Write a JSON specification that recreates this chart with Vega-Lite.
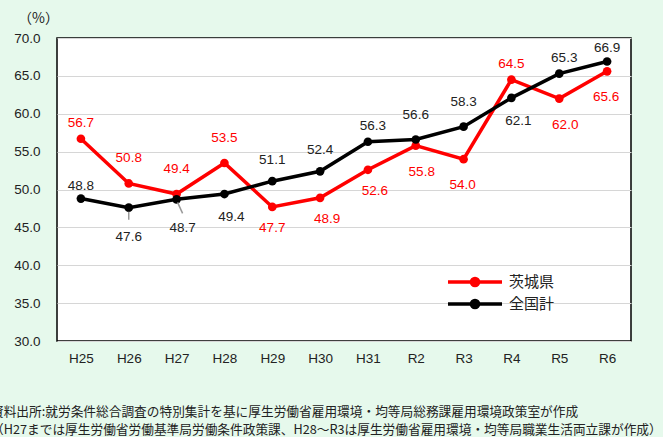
{
  "$schema": "https://vega.github.io/schema/vega-lite/v6.json",
  "width": 574,
  "height": 303,
  "autosize": "none",
  "padding": {"left": 57, "top": 38, "right": 32, "bottom": 96},
  "background": "#e6f9ec",
  "config": {
    "view": {"fill": "white", "stroke": "black", "strokeWidth": 1.5},
    "font": "Liberation Sans"
  },
  "title": {
    "text": [
      "資料出所:就労条件総合調査の特別集計を基に厚生労働省雇用環境・均等局総務課雇用環境政策室が作成",
      "（H27までは厚生労働省労働基準局労働条件政策課、H28～R3は厚生労働省雇用環境・均等局職業生活両立課が作成）"
    ],
    "orient": "bottom",
    "anchor": "start",
    "frame": "group",
    "dx": -66,
    "offset": 41,
    "fontSize": 12.7,
    "fontWeight": "normal",
    "font": "Noto Sans CJK JP",
    "color": "#222222",
    "lineHeight": 18.5
  },
  "data": {
    "values": [
      {"x": "H25", "s": "茨城県", "v": 56.7},
      {"x": "H26", "s": "茨城県", "v": 50.8},
      {"x": "H27", "s": "茨城県", "v": 49.4},
      {"x": "H28", "s": "茨城県", "v": 53.5},
      {"x": "H29", "s": "茨城県", "v": 47.7},
      {"x": "H30", "s": "茨城県", "v": 48.9},
      {"x": "H31", "s": "茨城県", "v": 52.6},
      {"x": "R2", "s": "茨城県", "v": 55.8},
      {"x": "R3", "s": "茨城県", "v": 54.0},
      {"x": "R4", "s": "茨城県", "v": 64.5},
      {"x": "R5", "s": "茨城県", "v": 62.0},
      {"x": "R6", "s": "茨城県", "v": 65.6},
      {"x": "H25", "s": "全国計", "v": 48.8},
      {"x": "H26", "s": "全国計", "v": 47.6},
      {"x": "H27", "s": "全国計", "v": 48.7},
      {"x": "H28", "s": "全国計", "v": 49.4},
      {"x": "H29", "s": "全国計", "v": 51.1},
      {"x": "H30", "s": "全国計", "v": 52.4},
      {"x": "H31", "s": "全国計", "v": 56.3},
      {"x": "R2", "s": "全国計", "v": 56.6},
      {"x": "R3", "s": "全国計", "v": 58.3},
      {"x": "R4", "s": "全国計", "v": 62.1},
      {"x": "R5", "s": "全国計", "v": 65.3},
      {"x": "R6", "s": "全国計", "v": 66.9}
    ]
  },
  "encoding": {
    "x": {
      "field": "x", "type": "ordinal", "sort": null,
      "scale": {"type": "point", "padding": 0.5},
      "axis": {"title": null, "labelAngle": 0, "ticks": false, "domain": false, "labelPadding": 10, "labelFontSize": 13.5, "labelColor": "#222222"}
    },
    "y": {
      "field": "v", "type": "quantitative",
      "scale": {"domain": [30, 70], "nice": false, "zero": false},
      "axis": {
        "title": "（%）", "titleAngle": 0, "titleX": -19, "titleY": -20, "titleAlign": "center", "titleBaseline": "middle",
        "titleFontSize": 14, "titleFontWeight": "normal", "titleFont": "Noto Sans CJK JP", "titleColor": "#222222",
        "values": [30, 35, 40, 45, 50, 55, 60, 65, 70], "format": ".1f",
        "ticks": false, "domain": false, "labelPadding": 17, "labelFontSize": 13.5, "labelColor": "#222222",
        "gridColor": "#d6d6d6", "gridWidth": 1
      }
    }
  },
  "layer": [
    {
      "mark": {"type": "line", "strokeWidth": 3.5, "point": {"filled": true, "size": 75}},
      "encoding": {
        "color": {
          "field": "s", "type": "nominal",
          "scale": {"domain": ["茨城県", "全国計"], "range": ["#ff0000", "#000000"]},
          "legend": {
            "title": null, "orient": "none", "legendX": 407, "legendY": 233,
            "symbolType": "M-3,0L3,0M-0.4,0A0.4,0.4,0,1,0,0.4,0A0.4,0.4,0,1,0,-0.4,0Z",
            "symbolSize": 324, "symbolStrokeWidth": 3.5,
            "labelFontSize": 15, "labelFont": "Noto Sans CJK JP", "labelColor": "#222222",
            "labelOffset": 23, "rowPadding": -1.5,
            "encode": {"symbols": {"update": {"fill": {"scale": "color", "field": "value"}, "stroke": {"scale": "color", "field": "value"}}}}
          }
        }
      }
    },
    {
      "transform": [{"filter": "datum.s == '全国計' && datum.x == 'H26'"}],
      "mark": {"type": "rule", "color": "#999999", "strokeWidth": 1.5, "yOffset": 4, "y2Offset": 12},
      "encoding": {"y2": {"field": "v"}}
    },
    {
      "transform": [{"filter": "datum.s == '全国計' && datum.x == 'H27'"}],
      "mark": {"type": "rule", "color": "#999999", "strokeWidth": 1.5, "xOffset": 1, "x2Offset": 6, "yOffset": 3, "y2Offset": 14},
      "encoding": {"x2": {"field": "x"}, "y2": {"field": "v"}}
    },
    {
      "transform": [{"filter": "datum.s == '茨城県' && indexof(['H25','R4'], datum.x) >= 0"}],
      "mark": {"type": "text", "color": "#ff0000", "fontSize": 13.5, "dy": -16, "baseline": "middle"},
      "encoding": {"text": {"field": "v", "format": ".1f"}}
    },
    {
      "transform": [{"filter": "datum.s == '茨城県' && indexof(['H26','H27','H28'], datum.x) >= 0"}],
      "mark": {"type": "text", "color": "#ff0000", "fontSize": 13.5, "dy": -25, "baseline": "middle"},
      "encoding": {"text": {"field": "v", "format": ".1f"}}
    },
    {
      "transform": [{"filter": "datum.s == '茨城県' && indexof(['H29'], datum.x) >= 0"}],
      "mark": {"type": "text", "color": "#ff0000", "fontSize": 13.5, "dy": 21, "baseline": "middle"},
      "encoding": {"text": {"field": "v", "format": ".1f"}}
    },
    {
      "transform": [{"filter": "datum.s == '茨城県' && indexof(['H30','H31'], datum.x) >= 0"}],
      "mark": {"type": "text", "color": "#ff0000", "fontSize": 13.5, "dy": 21, "dx": 7, "baseline": "middle"},
      "encoding": {"text": {"field": "v", "format": ".1f"}}
    },
    {
      "transform": [{"filter": "datum.s == '茨城県' && indexof(['R2','R5'], datum.x) >= 0"}],
      "mark": {"type": "text", "color": "#ff0000", "fontSize": 13.5, "dy": 26, "dx": 6, "baseline": "middle"},
      "encoding": {"text": {"field": "v", "format": ".1f"}}
    },
    {
      "transform": [{"filter": "datum.s == '茨城県' && indexof(['R3','R6'], datum.x) >= 0"}],
      "mark": {"type": "text", "color": "#ff0000", "fontSize": 13.5, "dy": 26, "dx": -1, "baseline": "middle"},
      "encoding": {"text": {"field": "v", "format": ".1f"}}
    },
    {
      "transform": [{"filter": "datum.s == '全国計' && indexof(['H25','R6'], datum.x) >= 0"}],
      "mark": {"type": "text", "color": "#222222", "fontSize": 13.5, "dy": -13, "baseline": "middle"},
      "encoding": {"text": {"field": "v", "format": ".1f"}}
    },
    {
      "transform": [{"filter": "datum.s == '全国計' && indexof(['H29','H30'], datum.x) >= 0"}],
      "mark": {"type": "text", "color": "#222222", "fontSize": 13.5, "dy": -21, "baseline": "middle"},
      "encoding": {"text": {"field": "v", "format": ".1f"}}
    },
    {
      "transform": [{"filter": "datum.s == '全国計' && indexof(['H31','R5'], datum.x) >= 0"}],
      "mark": {"type": "text", "color": "#222222", "fontSize": 13.5, "dy": -16, "dx": 5, "baseline": "middle"},
      "encoding": {"text": {"field": "v", "format": ".1f"}}
    },
    {
      "transform": [{"filter": "datum.s == '全国計' && indexof(['R2','R3'], datum.x) >= 0"}],
      "mark": {"type": "text", "color": "#222222", "fontSize": 13.5, "dy": -25, "baseline": "middle"},
      "encoding": {"text": {"field": "v", "format": ".1f"}}
    },
    {
      "transform": [{"filter": "datum.s == '全国計' && indexof(['H26'], datum.x) >= 0"}],
      "mark": {"type": "text", "color": "#222222", "fontSize": 13.5, "dy": 29, "baseline": "middle"},
      "encoding": {"text": {"field": "v", "format": ".1f"}}
    },
    {
      "transform": [{"filter": "datum.s == '全国計' && indexof(['H27'], datum.x) >= 0"}],
      "mark": {"type": "text", "color": "#222222", "fontSize": 13.5, "dy": 29, "dx": 6, "baseline": "middle"},
      "encoding": {"text": {"field": "v", "format": ".1f"}}
    },
    {
      "transform": [{"filter": "datum.s == '全国計' && indexof(['H28','R4'], datum.x) >= 0"}],
      "mark": {"type": "text", "color": "#222222", "fontSize": 13.5, "dy": 23, "dx": 7, "baseline": "middle"},
      "encoding": {"text": {"field": "v", "format": ".1f"}}
    }
  ]
}
